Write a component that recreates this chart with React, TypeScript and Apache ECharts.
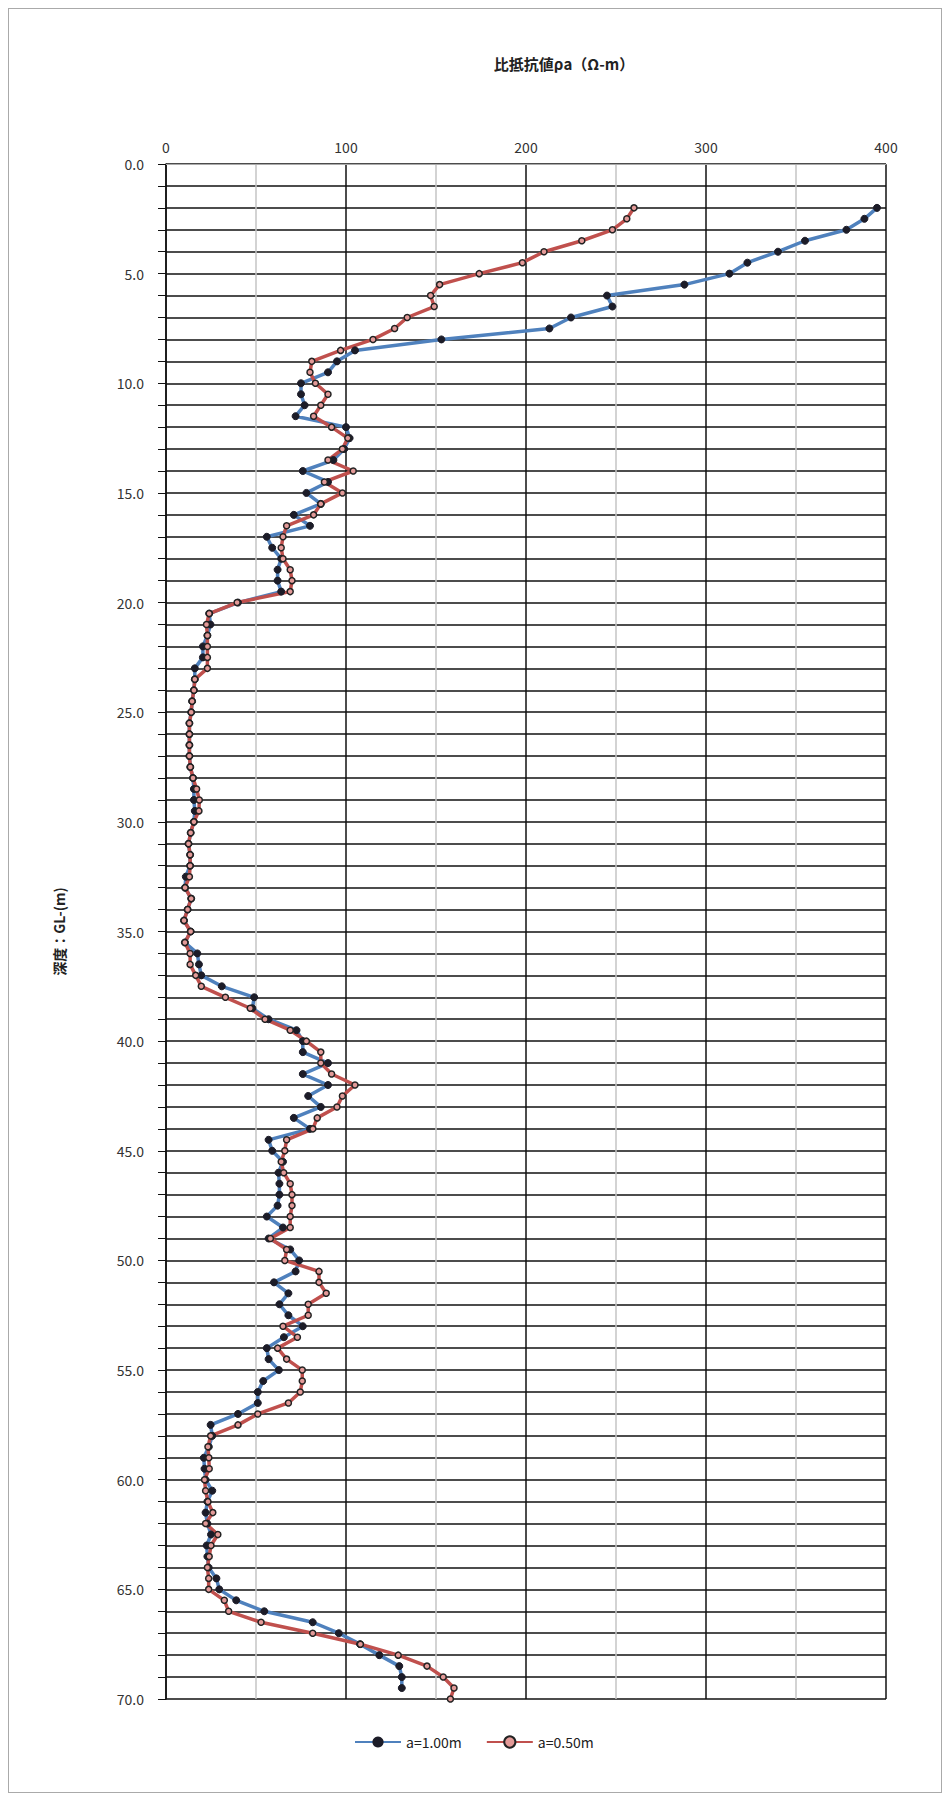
import React, { useEffect, useRef } from "react";
import * as echarts from "echarts";

const depths: number[] = [];
for (let i = 0; i <= 136; i++) depths.push(2 + i * 0.5);

// a=1.00m, depth 2.0 .. 70.0 every 0.5 m
const blueValues = [
  395, 388, 378, 355, 340, 323, 313, 288, 245, 248, 225, 213, 153, 105, 95, 90,
  75, 75, 77, 72, 100, 102, 99, 93, 76, 90, 78, 86, 71, 80, 56, 59,
  64, 62, 62, 64, 40, 24, 24.7, 23, 20.5, 20.5, 16, 16, 15.5, 14.5, 14, 13,
  13, 13, 13, 13.5, 15, 15.5, 15.5, 16, 15.5, 13.7, 12.5, 13.4, 13.4, 11, 10.6, 14,
  12, 10, 13.7, 10.5, 17.4, 18.3, 19.6, 31, 49, 48, 57, 72.5, 76, 76, 90, 76,
  90, 79, 86, 71, 80, 57, 59, 65, 62.5, 63, 63, 62, 56, 65, 57, 69,
  74, 72, 60, 68, 63, 68, 76, 65.5, 56, 57, 62.7, 54, 51, 51, 40, 24.8,
  25.7, 23.8, 21, 21.4, 22, 25.7, 23, 22, 23, 25, 22.6, 23, 23.7, 28, 29.6, 39,
  54.6, 81.5, 96, 107.8, 118.5, 129.6, 131, 131,
];

// a=0.50m, depth 2.0 .. 70.0 every 0.5 m
const redValues = [
  260, 256, 248, 231, 210, 198, 174, 152, 147, 149, 134, 127, 115, 97, 81, 80,
  83, 90, 86, 82, 92, 101, 98, 90, 104, 88, 98, 86, 82, 67, 65, 64,
  65, 69, 70, 69, 39.5, 24, 22.5, 23, 23, 23, 23, 16, 15.5, 14.5, 14, 13,
  13, 13, 13, 13.5, 15, 17, 18.5, 18.3, 15.5, 13.7, 12.5, 13.4, 13.4, 13, 10.6, 14,
  12, 10, 13.7, 10.5, 13.4, 13.4, 16.5, 19.6, 33, 46.8, 55, 69, 78, 86, 86, 92,
  105, 98, 95, 84, 81.6, 67, 66, 64, 65.4, 69, 70, 70, 69, 69, 58, 67,
  66, 85, 85, 89, 79, 79, 65, 73, 62, 67, 75.7, 75.7, 74.6, 68, 51, 40,
  24.8, 23.3, 23.8, 24, 21.4, 22, 23.3, 26, 22, 28.8, 25, 24, 23, 23.7, 23.7, 32.4,
  34.8, 52.8, 81.5, 108, 129, 145, 154, 160, 158,
];

const xTicks = [0, 100, 200, 300, 400];

const App = () => {
  const chartContainer = useRef<HTMLDivElement>(null);

  useEffect(() => {
    if (!chartContainer.current) return;
    const chart = echarts.init(chartContainer.current, null, { renderer: "svg" });
    const font = "'Noto Sans CJK JP', 'Noto Sans', sans-serif";

    const option: echarts.EChartsOption = {
      animation: false,
      title: {
        text: "比抵抗値ρa（Ω-m）",
        left: 550,
        top: 42,
        textAlign: "center",
        textStyle: { fontFamily: font, fontSize: 15, fontWeight: "bold", color: "#222" },
      },
      legend: {
        bottom: 38,
        left: 340,
        itemGap: 24,
        itemWidth: 46,
        textStyle: { fontFamily: font, fontSize: 14, color: "#222" },
        data: ["a=1.00m", "a=0.50m"],
      },
      grid: { left: 157, top: 155, width: 720, height: 1535 },
      xAxis: {
        type: "value",
        position: "top",
        min: 0,
        max: 400,
        interval: 50,
        axisLine: { show: true, lineStyle: { color: "#aaa" } },
        axisTick: { show: false },
        axisLabel: {
          fontFamily: font,
          fontSize: 14,
          color: "#333",
          margin: 10,
          formatter: (v: number) => (xTicks.includes(v) ? String(v) : ""),
        },
        splitLine: { show: true, lineStyle: { color: ["#111", "#c4c4c4"], width: 1.5 } },
      },
      yAxis: {
        type: "value",
        inverse: true,
        min: 0,
        max: 70,
        interval: 1,
        name: "深度：GL-(m)",
        nameLocation: "middle",
        nameGap: 100,
        nameRotate: 90,
        nameTextStyle: { fontFamily: font, fontSize: 14, fontWeight: "bold", color: "#222" },
        axisLine: { show: true, lineStyle: { color: "#111", width: 1.5 } },
        axisTick: {
          show: true,
          length: 8,
          interval: (i: number) => i % 5 === 0,
          lineStyle: { color: "#111" },
        },
        axisLabel: {
          fontFamily: font,
          fontSize: 14,
          color: "#333",
          margin: 22,
          interval: 0,
          formatter: (v: number) => (v % 5 === 0 ? v.toFixed(1) : ""),
        },
        splitLine: { show: true, lineStyle: { color: "#111", width: 1.5 } },
      },
      series: [
        {
          name: "a=1.00m",
          type: "line",
          data: depths.map((d, i) => [blueValues[i], d]),
          color: "#4f81bd",
          lineStyle: { width: 3.5, color: "#4f81bd" },
          symbol: "circle",
          symbolSize: 7,
          itemStyle: { color: "#1c1c28", borderColor: "#1c1c28" },
        },
        {
          name: "a=0.50m",
          type: "line",
          data: depths.map((d, i) => [redValues[i], d]),
          color: "#c0504d",
          lineStyle: { width: 3.5, color: "#c0504d" },
          symbol: "circle",
          symbolSize: 6,
          itemStyle: { color: "#e39a98", borderColor: "#222", borderWidth: 1.5 },
        },
      ],
    };

    chart.setOption(option);
    return () => chart.dispose();
  }, []);

  return (
    <div
      ref={chartContainer}
      style={{ width: 932, height: 1783, border: "1px solid #aaa" }}
    />
  );
};

export default App;
